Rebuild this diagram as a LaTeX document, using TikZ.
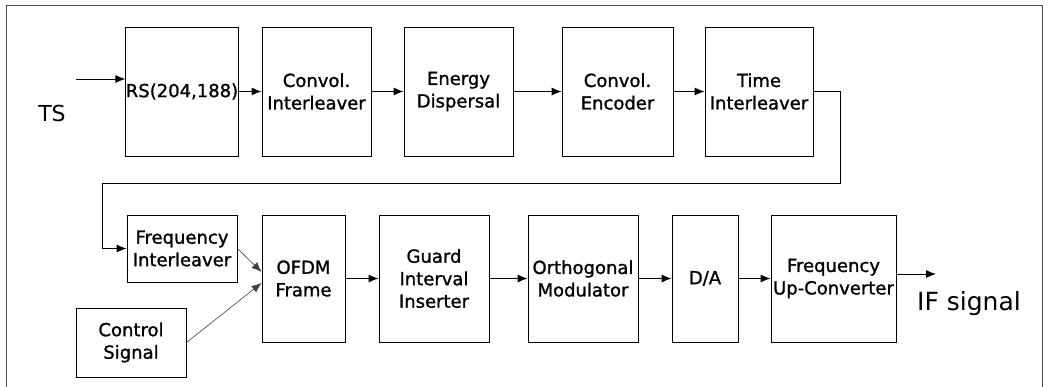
\documentclass[tikz,border=0pt]{standalone}
\usepackage{fontspec}
\setmainfont{DejaVu Sans}
\newfontfamily\boxfont[FakeBold=1.2]{DejaVu Sans}
\usetikzlibrary{arrows.meta}
\tikzset{
  blk/.style={draw, line width=0.9pt, rectangle, inner sep=0pt, align=center,
              font=\boxfont\fontsize{18}{22.5}\selectfont},
  arr/.style={line width=0.9pt, -{Latex[length=10pt,width=8pt]}},
  thin arr/.style={line width=0.6pt, draw=black!75, -{Latex[length=10pt,width=8pt]}},
  wire/.style={line width=0.9pt},
  frame/.style={line width=0.8pt, draw=black!70},
}
\begin{document}
\begin{tikzpicture}[x=1pt,y=-1pt]
\useasboundingbox (0,0) rectangle (1049,387);
% outer frame
\draw[frame] (6,387) -- (6,5) -- (1042,5) -- (1042,387);
% top row
\node[blk, minimum width=110pt, minimum height=129pt] (rs) at (182,91.5) {RS(204,188)};
\node[blk, minimum width=109pt, minimum height=129pt] (ci) at (316.5,91.5) {Convol.\\Interleaver};
\node[blk, minimum width=109pt, minimum height=129pt] (ed) at (458.5,91.5) {Energy\\Dispersal};
\node[blk, minimum width=111pt, minimum height=129pt] (ce) at (617.5,91.5) {Convol.\\Encoder};
\node[blk, minimum width=108pt, minimum height=129pt] (ti) at (759,91.5) {Time\\Interleaver};
% bottom row
\node[blk, minimum width=110pt, minimum height=67pt] (fi) at (182,248.5) {Frequency\\Interleaver};
\node[blk, minimum width=83pt, minimum height=127pt] (of) at (303.5,278.5) {OFDM\\Frame};
\node[blk, minimum width=110pt, minimum height=127pt] (gi) at (434,278.5) {Guard\\Interval\\Inserter};
\node[blk, minimum width=110pt, minimum height=127pt] (om) at (583,278.5) {Orthogonal\\Modulator};
\node[blk, minimum width=66pt, minimum height=127pt] (da) at (705,278.5) {D/A};
\node[blk, minimum width=125pt, minimum height=127pt] (fu) at (833.5,278.5) {Frequency\\Up-Converter};
\node[blk, minimum width=110pt, minimum height=69pt] (cs) at (131,342.5) {Control\\Signal};
% labels
\node[font=\fontsize{22}{26}\selectfont] (ts) at (52,113) {TS};
\node[font=\fontsize{25}{30}\selectfont, anchor=base west, inner sep=0pt] (ifs) at (917,310) {IF signal};
% coordinates
\coordinate (tsin) at (76,79);
\coordinate (ifend) at (936,274);
\coordinate (c1) at (840,91.5);
\coordinate (c2) at (840,183);
\coordinate (c3) at (102,183);
\coordinate (c4) at (102,248.5);
% connectors
\draw[arr] (tsin) -- (tsin -| rs.west);
\draw[arr] (rs) -- (ci);
\draw[arr] (ci) -- (ed);
\draw[arr] (ed) -- (ce);
\draw[arr] (ce) -- (ti);
\draw[wire] (ti.east) -- (c1) -- (c2) -- (c3) -- (c4);
\draw[arr] (c4) -- (fi.west);
\draw[thin arr] (fi.east) -- ([yshift=6.5pt]of.west);
\draw[thin arr] (cs.east) -- ([yshift=-4.5pt]of.west);
\draw[arr] (of) -- (gi);
\draw[arr] (gi) -- (om);
\draw[arr] (om) -- (da);
\draw[arr] (da) -- (fu);
\draw[arr] (fu.east |- ifend) -- (ifend);
\end{tikzpicture}
\end{document}
